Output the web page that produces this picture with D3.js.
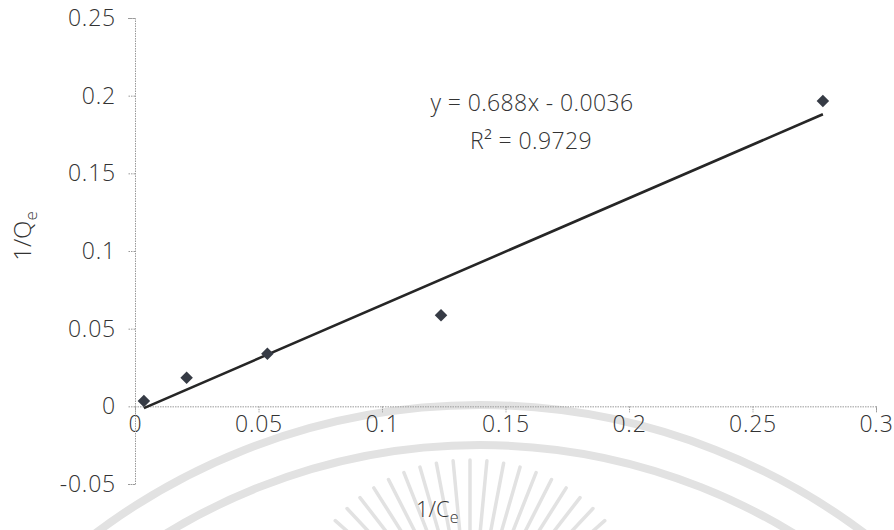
<!DOCTYPE html>
<html>
<head>
<meta charset="utf-8">
<script src="https://cdn.jsdelivr.net/npm/d3@7"></script>
<style>
  html, body { margin: 0; padding: 0; background: #ffffff; }
  svg { display: block; }
  text { font-family: "Open Sans", "Noto Sans", sans-serif; fill: #333333; font-weight: 300; }
</style>
</head>
<body>
<svg id="chart" width="894" height="530"></svg>
<script>
// Linearised isotherm: 1/Ce against 1/Qe
const invCe = [0.0036, 0.0209, 0.0536, 0.1239, 0.2785];
const invQe = [0.0035, 0.0184, 0.0338, 0.0586, 0.1965];

// Fitted trendline y = slope * x + intercept
const slope = 0.688;
const intercept = -0.0036;
const rSquared = 0.9729;

const xTicks = [0, 0.05, 0.1, 0.15, 0.2, 0.25, 0.3];
const yTicks = [-0.05, 0, 0.05, 0.1, 0.15, 0.2, 0.25];

const svg = d3.select("#chart");

// faint seal in the background
const seal = svg.append("g").attr("fill", "none").attr("stroke", "#e2e2e2");
const cx = 480, cy = 1045;
[640, 600].forEach(r => {
  seal.append("circle").attr("cx", cx).attr("cy", cy).attr("r", r).attr("stroke-width", 8);
});
const rc = { x: 470, y: 640 };
for (let i = 0; i <= 26; i++) {
  const a = (-160 + i * (140 / 26)) * Math.PI / 180;
  seal.append("line")
    .attr("x1", rc.x + Math.cos(a) * 95).attr("y1", rc.y + Math.sin(a) * 95)
    .attr("x2", rc.x + Math.cos(a) * 180).attr("y2", rc.y + Math.sin(a) * 180)
    .attr("stroke-width", 3.5).attr("stroke-linecap", "round");
}

const x = d3.scaleLinear().domain([0, 0.3]).range([135, 876]);
const y = d3.scaleLinear().domain([-0.05, 0.25]).range([484, 18]);

// plain hyphen for negatives, no trailing zeros
const fmt = d => String(+d.toFixed(2));

// x axis sits on y = 0
const xAxis = svg.append("g")
  .attr("transform", `translate(0,${y(0)})`)
  .call(d3.axisBottom(x).tickValues(xTicks).tickSize(6).tickPadding(3).tickFormat(fmt));

// y axis sits on x = 0
const yAxis = svg.append("g")
  .attr("transform", `translate(${x(0)},0)`)
  .call(d3.axisLeft(y).tickValues(yTicks).tickSize(7).tickPadding(12).tickFormat(fmt));

[xAxis, yAxis].forEach(g => {
  g.select(".domain").attr("stroke", "#9a9a9a").attr("stroke-dasharray", "1.5,1");
  g.selectAll(".tick line").attr("stroke", "#9a9a9a").attr("stroke-dasharray", "1.5,1");
  g.selectAll(".tick text")
    .style("font-size", "23px").style("letter-spacing", "0.8px")
    .attr("fill", "#333333");
});

// trendline across the data range
const xMin = d3.min(invCe), xMax = d3.max(invCe);
svg.append("line")
  .attr("x1", x(xMin)).attr("y1", y(slope * xMin + intercept))
  .attr("x2", x(xMax)).attr("y2", y(slope * xMax + intercept))
  .attr("stroke", "#262626").attr("stroke-width", 2.6);

// diamond markers
const diamond = d3.symbol().type(d3.symbolDiamond2).size(100);
svg.append("g").selectAll("path")
  .data(invCe.map((v, i) => [v, invQe[i]]))
  .join("path")
  .attr("d", diamond)
  .attr("transform", d => `translate(${x(d[0])},${y(d[1])})`)
  .attr("fill", "#363b45");

// equation and fit quality
svg.append("text").attr("x", 532).attr("y", 111).attr("text-anchor", "middle")
  .style("font-size", "23px").style("letter-spacing", "0.4px")
  .text(`y = ${slope}x - ${Math.abs(intercept)}`);
const r2 = svg.append("text").attr("x", 531).attr("y", 149).attr("text-anchor", "middle")
  .style("font-size", "23px").style("letter-spacing", "0.4px");
r2.append("tspan").text("R² = " + rSquared);

// axis titles
const xt = svg.append("text").attr("x", 416).attr("y", 517).style("font-size", "22px");
xt.append("tspan").text("1/C");
xt.append("tspan").attr("dy", 6).style("font-size", "16px").text("e");

const yt = svg.append("text")
  .attr("transform", "translate(31,236) rotate(-90)")
  .attr("text-anchor", "middle").style("font-size", "24px");
yt.append("tspan").text("1/Q");
yt.append("tspan").attr("dy", 6).style("font-size", "17px").text("e");
</script>
</body>
</html>
